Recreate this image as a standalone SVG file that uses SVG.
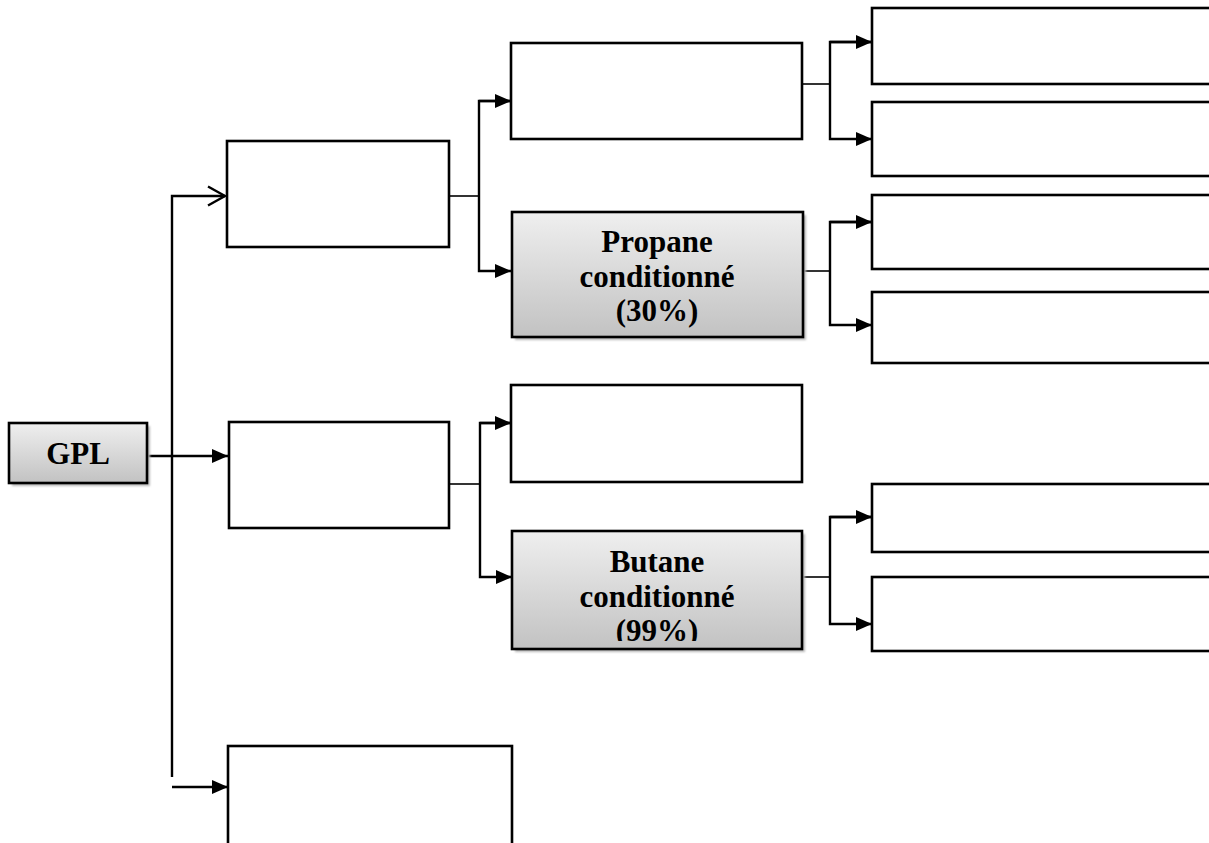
<svg xmlns="http://www.w3.org/2000/svg" width="1209" height="843" viewBox="0 0 1209 843">
  <style>
    .box { fill: #ffffff; stroke: #000000; stroke-width: 2.6; }
    .grey { fill: url(#greyFill); stroke: #000000; stroke-width: 2.6; }
    .shadow { fill: #b8b8b8; filter: url(#soft); }
    .line { fill: none; stroke: #000000; stroke-width: 2.4; }
    .stub { fill: none; stroke: #000000; stroke-width: 1.6; }
    .label { font-family: "Liberation Serif", "Times New Roman", serif; font-weight: bold; font-size: 31px; fill: #000000; text-anchor: middle; }
  </style>
  <defs>
    <linearGradient id="greyFill" x1="0" y1="0" x2="0" y2="1">
      <stop offset="0" stop-color="#efefef"/>
      <stop offset="1" stop-color="#c2c2c2"/>
    </linearGradient>
    <filter id="soft" x="-5%" y="-5%" width="110%" height="110%">
      <feGaussianBlur stdDeviation="0.8"/>
    </filter>
    <marker id="solid" viewBox="0 0 16 14" refX="16" refY="7" markerWidth="16" markerHeight="14" markerUnits="userSpaceOnUse" orient="auto">
      <path d="M0,0 L16,7 L0,14 Z" fill="#000000"/>
    </marker>
    <marker id="open" viewBox="0 0 20 22" refX="18" refY="11" markerWidth="20" markerHeight="22" markerUnits="userSpaceOnUse" orient="auto">
      <path d="M1,1.5 L18,11 L1,20.5" fill="none" stroke="#000000" stroke-width="2.4"/>
    </marker>
    <clipPath id="butaneClip">
      <rect x="512" y="531" width="290" height="110"/>
    </clipPath>
  </defs>

  <!-- connectors -->
  <g id="connectors">
    <!-- GPL to trunk -->
    <line class="line" x1="147" y1="456" x2="228" y2="456" marker-end="url(#solid)"/>
    <!-- main trunk -->
    <polyline class="line" points="172,777 172,196 225,196" marker-end="url(#open)"/>
    <line class="line" x1="172" y1="787" x2="228" y2="787" marker-end="url(#solid)"/>

    <!-- first branch -->
    <line class="stub" x1="449" y1="196" x2="479" y2="196"/>
    <polyline class="line" points="511,101 479,101 479,271 511,271" marker-end="url(#solid)"/>
    <line class="line" x1="479" y1="101" x2="511" y2="101" marker-end="url(#solid)"/>

    <!-- second branch -->
    <line class="stub" x1="449" y1="484" x2="480" y2="484"/>
    <polyline class="line" points="511,423 480,423 480,577 512,577" marker-end="url(#solid)"/>
    <line class="line" x1="480" y1="423" x2="511" y2="423" marker-end="url(#solid)"/>

    <!-- top right pair -->
    <line class="stub" x1="802" y1="84" x2="830" y2="84"/>
    <polyline class="line" points="872,42 830,42 830,139 872,139" marker-end="url(#solid)"/>
    <line class="line" x1="830" y1="42" x2="872" y2="42" marker-end="url(#solid)"/>

    <!-- propane pair -->
    <line class="stub" x1="803" y1="271" x2="830" y2="271"/>
    <polyline class="line" points="872,222 830,222 830,325 872,325" marker-end="url(#solid)"/>
    <line class="line" x1="830" y1="222" x2="872" y2="222" marker-end="url(#solid)"/>

    <!-- butane pair -->
    <line class="stub" x1="802" y1="577" x2="830" y2="577"/>
    <polyline class="line" points="872,517 830,517 830,624 872,624" marker-end="url(#solid)"/>
    <line class="line" x1="830" y1="517" x2="872" y2="517" marker-end="url(#solid)"/>
  </g>

  <!-- nodes -->
  <g id="gpl">
    <rect class="shadow" x="12" y="426" width="138" height="60"/>
    <rect class="grey" x="9" y="423" width="138" height="60"/>
    <text class="label" x="78" y="464">GPL</text>
  </g>

  <g id="level1-top">
    <rect class="box" x="227" y="141" width="222" height="106"/>
  </g>
  <g id="level1-middle">
    <rect class="box" x="229" y="422" width="220" height="106"/>
  </g>
  <g id="level1-bottom">
    <rect class="box" x="228" y="746" width="284" height="110"/>
  </g>

  <g id="level2-top">
    <rect class="box" x="511" y="43" width="291" height="96"/>
  </g>
  <g id="propane">
    <rect class="shadow" x="515" y="215" width="291" height="125"/>
    <rect class="grey" x="512" y="212" width="291" height="125"/>
    <text class="label" x="657" y="252">Propane</text>
    <text class="label" x="657" y="287">conditionné</text>
    <text class="label" x="657" y="321">(30%)</text>
  </g>
  <g id="level2-middle">
    <rect class="box" x="511" y="385" width="291" height="97"/>
  </g>
  <g id="butane">
    <rect class="shadow" x="515" y="534" width="290" height="118"/>
    <rect class="grey" x="512" y="531" width="290" height="118"/>
    <g clip-path="url(#butaneClip)">
      <text class="label" x="657" y="572">Butane</text>
      <text class="label" x="657" y="607">conditionné</text>
      <text class="label" x="657" y="641">(99%)</text>
    </g>
  </g>

  <g id="level3-a1">
    <rect class="box" x="872" y="8" width="345" height="76"/>
  </g>
  <g id="level3-a2">
    <rect class="box" x="872" y="102" width="345" height="74"/>
  </g>
  <g id="level3-b1">
    <rect class="box" x="872" y="195" width="345" height="74"/>
  </g>
  <g id="level3-b2">
    <rect class="box" x="872" y="292" width="345" height="71"/>
  </g>
  <g id="level3-c1">
    <rect class="box" x="872" y="484" width="345" height="68"/>
  </g>
  <g id="level3-c2">
    <rect class="box" x="872" y="577" width="345" height="74"/>
  </g>
</svg>
